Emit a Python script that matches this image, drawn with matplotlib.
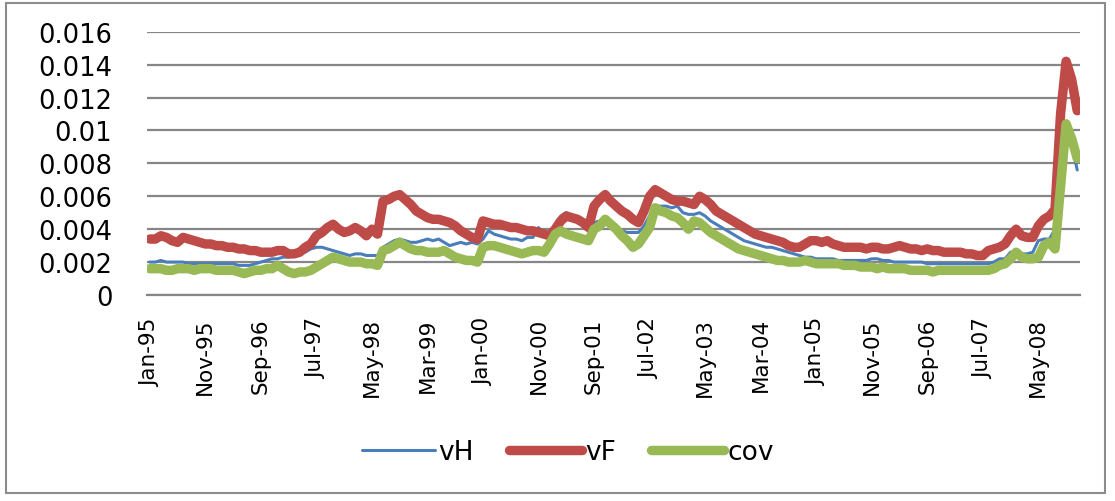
import matplotlib
matplotlib.use("Agg")
import matplotlib.pyplot as plt
from matplotlib.patches import Rectangle
import numpy as np

# monthly data Jan-95 .. Dec-08
vH = [
    0.0020, 0.0020, 0.0021, 0.0020, 0.0020, 0.0020, 0.0020, 0.0019, 0.0019, 0.0019, 0.0019, 0.0019,
    0.0019, 0.0019, 0.0019, 0.0019, 0.0018, 0.0018, 0.0018, 0.0019, 0.0020, 0.0021, 0.0022, 0.0022,
    0.0023, 0.0023, 0.0024, 0.0025, 0.0026, 0.0028, 0.0029, 0.0029, 0.0028, 0.0027, 0.0026, 0.0025,
    0.0024, 0.0025, 0.0025, 0.0024, 0.0024, 0.0024, 0.0029, 0.0031, 0.0033, 0.0034, 0.0033, 0.0032,
    0.0032, 0.0033, 0.0034, 0.0033, 0.0034, 0.0032, 0.0030, 0.0031, 0.0032, 0.0031, 0.0032, 0.0031,
    0.0034, 0.0039, 0.0037, 0.0036, 0.0035, 0.0034, 0.0034, 0.0033, 0.0035, 0.0035, 0.0041, 0.0037,
    0.0036, 0.0043, 0.0048, 0.0050, 0.0048, 0.0046, 0.0044, 0.0041, 0.0044, 0.0045, 0.0044, 0.0041,
    0.0040, 0.0039, 0.0038, 0.0038, 0.0038, 0.0042, 0.0048, 0.0054, 0.0054, 0.0054, 0.0053, 0.0054,
    0.0050, 0.0049, 0.0049, 0.0050, 0.0048, 0.0045, 0.0043, 0.0041, 0.0039, 0.0037, 0.0035, 0.0033,
    0.0032, 0.0031, 0.0030, 0.0029, 0.0029, 0.0028, 0.0027, 0.0026, 0.0025, 0.0024, 0.0023, 0.0023,
    0.0022, 0.0022, 0.0022, 0.0022, 0.0021, 0.0021, 0.0021, 0.0021, 0.0021, 0.0021, 0.0022, 0.0022,
    0.0021, 0.0021, 0.0020, 0.0020, 0.0020, 0.0020, 0.0020, 0.0020, 0.0019, 0.0019, 0.0019, 0.0019,
    0.0019, 0.0019, 0.0019, 0.0019, 0.0019, 0.0019, 0.0019, 0.0019, 0.0020, 0.0022, 0.0022, 0.0026,
    0.0026, 0.0025, 0.0025, 0.0026, 0.0033, 0.0034, 0.0034, 0.0040, 0.0070, 0.0100, 0.0092, 0.0076,
]

vF = [
    0.0034, 0.0034, 0.0036, 0.0035, 0.0033, 0.0032, 0.0035, 0.0034, 0.0033, 0.0032, 0.0031, 0.0031,
    0.0030, 0.0030, 0.0029, 0.0029, 0.0028, 0.0028, 0.0027, 0.0027, 0.0026, 0.0026, 0.0026, 0.0027,
    0.0027, 0.0025, 0.0025, 0.0026, 0.0029, 0.0031, 0.0036, 0.0038, 0.0041, 0.0043, 0.0040, 0.0038,
    0.0039, 0.0041, 0.0039, 0.0036, 0.0040, 0.0037, 0.0057, 0.0058, 0.0060, 0.0061, 0.0058, 0.0055,
    0.0051, 0.0049, 0.0047, 0.0046, 0.0046, 0.0045, 0.0044, 0.0042, 0.0039, 0.0037, 0.0035, 0.0034,
    0.0045, 0.0044, 0.0043, 0.0043, 0.0042, 0.0041, 0.0041, 0.0040, 0.0039, 0.0039, 0.0038, 0.0037,
    0.0036, 0.0040, 0.0045, 0.0048, 0.0047, 0.0046, 0.0044, 0.0041, 0.0054, 0.0058, 0.0061, 0.0057,
    0.0054, 0.0051, 0.0049, 0.0046, 0.0044, 0.0051, 0.0060, 0.0064, 0.0062, 0.0060, 0.0058, 0.0057,
    0.0057, 0.0056, 0.0055, 0.0060, 0.0058, 0.0055, 0.0051, 0.0049, 0.0047, 0.0045, 0.0043, 0.0041,
    0.0039, 0.0037, 0.0036, 0.0035, 0.0034, 0.0033, 0.0032, 0.0030, 0.0029, 0.0029, 0.0031, 0.0033,
    0.0033, 0.0032, 0.0033, 0.0031, 0.0030, 0.0029, 0.0029, 0.0029, 0.0029, 0.0028, 0.0029, 0.0029,
    0.0028, 0.0028, 0.0029, 0.0030, 0.0029, 0.0028, 0.0028, 0.0027, 0.0028, 0.0027, 0.0027, 0.0026,
    0.0026, 0.0026, 0.0026, 0.0025, 0.0025, 0.0024, 0.0024, 0.0027, 0.0028, 0.0029, 0.0031, 0.0036,
    0.0040, 0.0036, 0.0035, 0.0035, 0.0042, 0.0046, 0.0048, 0.0052, 0.0110, 0.0142, 0.0131, 0.0112,
]

cov = [
    0.0016, 0.0016, 0.0016, 0.0015, 0.0015, 0.0016, 0.0016, 0.0016, 0.0015, 0.0016, 0.0016, 0.0016,
    0.0015, 0.0015, 0.0015, 0.0015, 0.0014, 0.0013, 0.0014, 0.0015, 0.0015, 0.0016, 0.0016, 0.0018,
    0.0016, 0.0014, 0.0013, 0.0014, 0.0014, 0.0015, 0.0017, 0.0019, 0.0021, 0.0023, 0.0022, 0.0021,
    0.0020, 0.0020, 0.0020, 0.0019, 0.0019, 0.0018, 0.0027, 0.0028, 0.0030, 0.0032, 0.0030, 0.0028,
    0.0027, 0.0027, 0.0026, 0.0026, 0.0026, 0.0027, 0.0025, 0.0023, 0.0022, 0.0021, 0.0021, 0.0020,
    0.0029, 0.0030, 0.0030, 0.0029, 0.0028, 0.0027, 0.0026, 0.0025, 0.0026, 0.0027, 0.0027, 0.0026,
    0.0031, 0.0037, 0.0039, 0.0037, 0.0036, 0.0035, 0.0034, 0.0033, 0.0040, 0.0042, 0.0046, 0.0043,
    0.0040, 0.0036, 0.0033, 0.0029, 0.0031, 0.0036, 0.0041, 0.0053, 0.0051, 0.0050, 0.0048, 0.0047,
    0.0044, 0.0040, 0.0045, 0.0044, 0.0041, 0.0038, 0.0036, 0.0034, 0.0032, 0.0030, 0.0028, 0.0027,
    0.0026, 0.0025, 0.0024, 0.0023, 0.0022, 0.0021, 0.0021, 0.0020, 0.0020, 0.0020, 0.0021, 0.0020,
    0.0019, 0.0019, 0.0019, 0.0019, 0.0019, 0.0018, 0.0018, 0.0018, 0.0017, 0.0017, 0.0017, 0.0016,
    0.0017, 0.0016, 0.0016, 0.0016, 0.0016, 0.0015, 0.0015, 0.0015, 0.0015, 0.0014, 0.0015, 0.0015,
    0.0015, 0.0015, 0.0015, 0.0015, 0.0015, 0.0015, 0.0015, 0.0015, 0.0016, 0.0018, 0.0019, 0.0022,
    0.0026, 0.0023, 0.0022, 0.0022, 0.0023, 0.0030, 0.0032, 0.0028, 0.0066, 0.0104, 0.0095, 0.0083,
]

tick_labels = ["Jan-95", "Nov-95", "Sep-96", "Jul-97", "May-98", "Mar-99", "Jan-00",
               "Nov-00", "Sep-01", "Jul-02", "May-03", "Mar-04", "Jan-05", "Nov-05",
               "Sep-06", "Jul-07", "May-08"]
y_ticks = [0, 0.002, 0.004, 0.006, 0.008, 0.01, 0.012, 0.014, 0.016]
y_tick_labels = ["0", "0.002", "0.004", "0.006", "0.008", "0.01", "0.012", "0.014", "0.016"]

plt.rcParams['font.family'] = ['DejaVu Sans']

W, H = 1115, 502
fig = plt.figure(figsize=(W / 100, H / 100), dpi=100)
fig.patch.set_facecolor("white")

# outer chart border
fig.add_artist(Rectangle((6 / W, 1 - 494 / H), (1105 - 6) / W, (494 - 4) / H,
                         transform=fig.transFigure, fill=False,
                         edgecolor="#8c8c8c", linewidth=1.5))

left, right, top, bottom = 147, 1080, 32.7, 296
ax = fig.add_axes([left / W, 1 - bottom / H, (right - left) / W, (bottom - top) / H])

x = np.arange(len(vH))
ax.plot(x, vH, color="#4A7EBB", linewidth=2.2, label="vH", solid_capstyle="round")
ax.plot(x, vF, color="#BE4B48", linewidth=6.8, label="vF", solid_capstyle="round",
        solid_joinstyle="round")
ax.plot(x, cov, color="#98B954", linewidth=6.8, label="cov", solid_capstyle="round",
        solid_joinstyle="round")

ax.set_xlim(-0.5, len(vH) - 0.5)
ax.set_ylim(0, 0.016)
ax.set_yticks(y_ticks)
ax.set_yticklabels(y_tick_labels, fontsize=18.5)
ax.set_xticks(np.arange(0, len(vH), 10))
ax.set_xticklabels(tick_labels, rotation=90, fontsize=15.5)
ax.tick_params(axis="y", length=0, pad=25)
ax.tick_params(axis="x", length=0, pad=16)

ax.grid(axis="y", color="#868686", linewidth=1.6)
ax.set_axisbelow(True)
for s in ["left", "right", "top"]:
    ax.spines[s].set_visible(False)
ax.spines["bottom"].set_color("#868686")
ax.spines["bottom"].set_linewidth(1.6)

leg = fig.legend(loc="center", bbox_to_anchor=(568 / W, 1 - 453 / H), ncol=3,
                 frameon=False, fontsize=19, handlelength=2.75, handletextpad=0.12,
                 columnspacing=1.35)

fig.savefig("out.png", dpi=100, facecolor="white")
